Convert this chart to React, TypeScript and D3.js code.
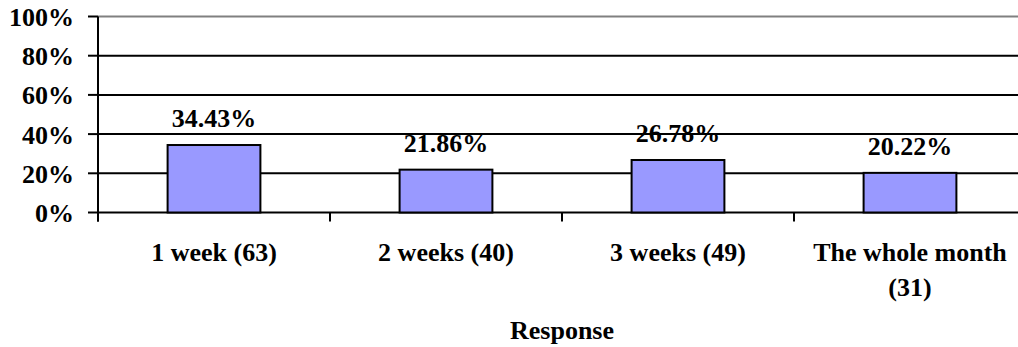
import React from "react";
import * as d3 from "d3";

const categories = ["1 week (63)", "2 weeks (40)", "3 weeks (49)", "The whole month (31)"];
const categoryLines = [["1 week (63)"], ["2 weeks (40)"], ["3 weeks (49)"], ["The whole month", "(31)"]];
const shares = [34.43, 21.86, 26.78, 20.22];
const yTicks = [0, 20, 40, 60, 80, 100];
const xTitle = "Response";

const W = 1018;
const H = 347;
const left = 98;
const right = 1026;
const top = 16.5;
const bottom = 212.5;
const font = "'Liberation Serif', 'Times New Roman', serif";

export default function App() {
  const x = d3.scaleBand<string>().domain(categories).range([left, right]).paddingInner(0.6).paddingOuter(0.3);
  const y = d3.scaleLinear().domain([0, 100]).range([bottom, top]);
  const step = x.step();
  const boundaries = d3.range(categories.length + 1).map((i) => left + i * step);

  return (
    <svg width={W} height={H} style={{ position: "absolute", left: 0, top: 0, background: "#fff" }} fontFamily={font} fontWeight="bold">
      {/* horizontal gridlines */}
      {yTicks.map((t) => (
        <line key={t} x1={left} x2={right} y1={y(t)} y2={y(t)} stroke={t === 100 ? "#808080" : "#000"} strokeWidth={2} />
      ))}
      {/* y axis + ticks */}
      <line x1={left} x2={left} y1={top} y2={bottom + 9} stroke="#000" strokeWidth={2} />
      {yTicks.map((t) => (
        <g key={"yt" + t}>
          <line x1={left - 10} x2={left} y1={y(t)} y2={y(t)} stroke="#000" strokeWidth={2} />
          <text x={74} y={y(t) + 9.5} textAnchor="end" fontSize={26}>{t}%</text>
        </g>
      ))}
      {/* category ticks */}
      {boundaries.map((b, i) => (
        <line key={"xt" + i} x1={b} x2={b} y1={bottom} y2={bottom + 9} stroke="#000" strokeWidth={2} />
      ))}
      {/* bars */}
      {categories.map((c, i) => (
        <rect key={c} x={x(c)} y={y(shares[i])} width={x.bandwidth()} height={bottom - y(shares[i])} fill="#9999FF" stroke="#000" strokeWidth={2} />
      ))}
      {/* value labels */}
      {categories.map((c, i) => (
        <text key={"v" + c} x={(x(c) as number) + x.bandwidth() / 2} y={y(shares[i]) - 18} textAnchor="middle" fontSize={26}>
          {shares[i].toFixed(2)}%
        </text>
      ))}
      {/* category labels */}
      {categories.map((c, i) => (
        <text key={"c" + c} x={(x(c) as number) + x.bandwidth() / 2} y={261} textAnchor="middle" fontSize={26}>
          {categoryLines[i].map((ln, j) => (
            <tspan key={j} x={(x(c) as number) + x.bandwidth() / 2} dy={j === 0 ? 0 : 35}>{ln}</tspan>
          ))}
        </text>
      ))}
      <text x={(left + right) / 2} y={339} textAnchor="middle" fontSize={26}>{xTitle}</text>
    </svg>
  );
}
